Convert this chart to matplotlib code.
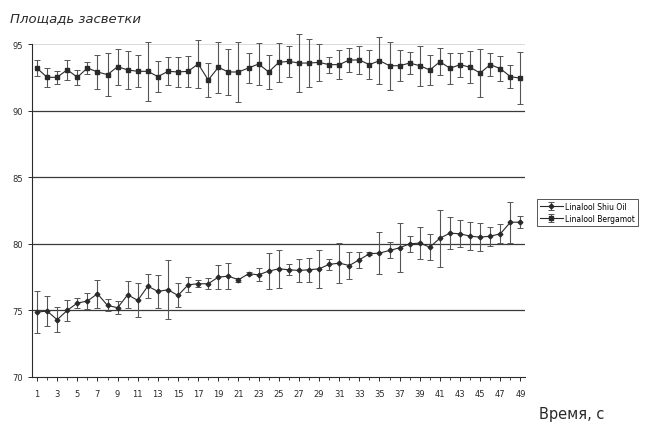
import matplotlib
matplotlib.use("Agg")
import matplotlib.pyplot as plt
import numpy as np

time_s = list(range(1, 50))

bergamot = [93.18, 92.5, 92.5, 93.07, 92.5, 93.2, 92.9, 92.7, 93.3, 93.05,
            92.95, 92.95, 92.55, 92.95, 92.9, 92.95, 93.5, 92.3, 93.25, 92.9,
            92.9, 93.2, 93.5, 92.9, 93.62, 93.7, 93.57, 93.57, 93.62, 93.45,
            93.45, 93.8, 93.8, 93.45, 93.75, 93.37, 93.37, 93.57, 93.37, 93.05,
            93.67, 93.18, 93.45, 93.25, 92.82, 93.45, 93.15, 92.55, 92.43]
bergamot_err = [0.6, 0.7, 0.5, 0.75, 0.55, 0.45, 1.25, 1.6, 1.35, 1.4,
                1.2, 2.2, 1.15, 1.05, 1.15, 1.15, 1.8, 1.25, 1.9, 1.75,
                2.25, 1.15, 1.6, 1.3, 1.45, 1.15, 2.15, 1.8, 1.4, 0.6,
                1.1, 0.9, 1.05, 1.1, 1.75, 1.8, 1.15, 0.8, 1.5, 1.15,
                1.0, 1.15, 0.9, 1.2, 1.8, 0.85, 0.95, 0.85, 1.95]

shiu = [74.87, 74.95, 74.3, 75.0, 75.55, 75.7, 76.25, 75.37, 75.2, 76.17,
        75.75, 76.82, 76.42, 76.55, 76.12, 76.92, 77.0, 77.0, 77.5, 77.57,
        77.3, 77.75, 77.67, 77.95, 78.12, 78.05, 78.0, 78.05, 78.12, 78.45,
        78.55, 78.37, 78.8, 79.25, 79.3, 79.5, 79.7, 80.0, 80.05, 79.75,
        80.42, 80.8, 80.75, 80.57, 80.5, 80.57, 80.75, 81.62, 81.62]
shiu_err = [1.6, 1.1, 0.95, 0.8, 0.37, 0.6, 1.05, 0.45, 0.5, 1.0,
            1.27, 0.9, 1.25, 2.2, 0.9, 0.55, 0.25, 0.4, 0.9, 1.0,
            0.15, 0.1, 0.5, 1.35, 1.45, 0.4, 0.85, 0.9, 1.45, 0.4,
            1.5, 1.05, 0.6, 0.1, 1.6, 0.6, 1.85, 0.6, 1.2, 1.0,
            2.15, 1.2, 1.0, 1.05, 1.05, 0.7, 0.7, 1.55, 0.45]

y_ticks = [70, 75, 80, 85, 90, 95]
x_tick_labels = list(range(1, 50, 2))

ink = "#2a2a2a"
plt.rcParams['font.family'] = ['DejaVu Sans']

fig = plt.figure(figsize=(6.45, 4.27), dpi=100)
ax = fig.add_axes([0.0496, 0.1148, 0.7644, 0.7798])

for g in [75, 80, 85, 90]:
    ax.axhline(g, color="#3a3a3a", lw=0.9, zorder=1)
ax.axhline(95, color="#d5d5d5", lw=0.6, zorder=1)

containers = []
containers.append(ax.errorbar(time_s, shiu, yerr=shiu_err, color=ink, lw=0.8, marker="D",
            markersize=2.4, ecolor="#555555", elinewidth=0.8, capsize=2,
            capthick=0.7, label="Linalool Shiu Oil", zorder=3))
containers.append(ax.errorbar(time_s, bergamot, yerr=bergamot_err, color=ink, lw=0.8, marker="s",
            markersize=3.0, ecolor="#555555", elinewidth=0.8, capsize=2,
            capthick=0.7, label="Linalool Bergamot", zorder=3))
for c in containers:
    for child in c.get_children():
        child.set_clip_on(False)

ax.set_xlim(0.5, 49.45)
ax.set_ylim(70, 95)
ax.set_yticks(y_ticks)
ax.set_xticks(x_tick_labels)
ax.set_xticks(time_s, minor=True)
ax.tick_params(axis="both", labelsize=6, colors=ink, length=3, width=0.7)
ax.tick_params(axis="x", which="minor", length=2, width=0.6, colors=ink)
ax.tick_params(axis="x", pad=6)
for s in ["top", "right"]:
    ax.spines[s].set_visible(False)
for s in ["left", "bottom"]:
    ax.spines[s].set_color(ink)
    ax.spines[s].set_linewidth(0.8)

handles, labels = ax.get_legend_handles_labels()
leg = fig.legend(handles, labels, loc="upper left",
                 bbox_to_anchor=(533 / 645, 1 - 196 / 427),
                 fontsize=5.5, frameon=True, fancybox=False, handlelength=3,
                 borderpad=0.4, labelspacing=0.4, handletextpad=0.3)
leg.get_frame().set_edgecolor(ink)
leg.get_frame().set_linewidth(0.7)

fig.text(10 / 645, 1 - 19 / 427, "Площадь засветки", fontsize=9.5,
         style="italic", color=ink, va="center", ha="left")
fig.text(539 / 645, 1 - 415 / 427, "Время, с", fontsize=10.5,
         color=ink, va="center", ha="left")

fig.savefig("out.png", dpi=100)
